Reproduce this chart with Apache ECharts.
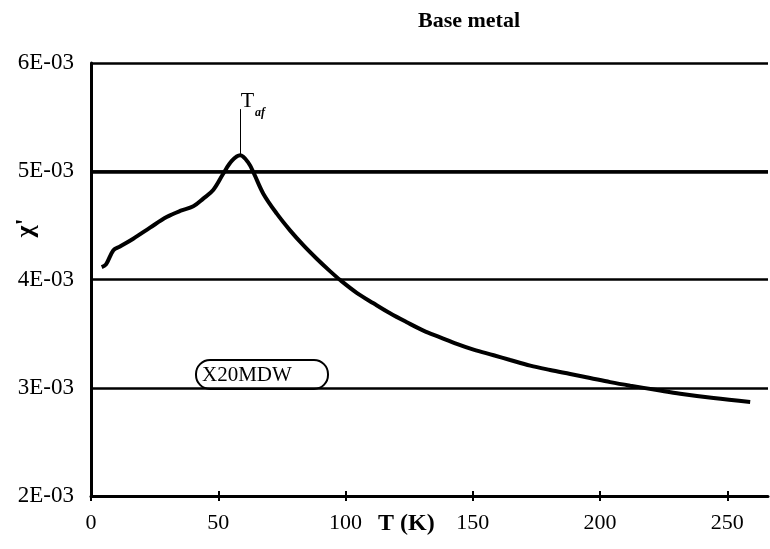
<!DOCTYPE html>
<html>
<head>
<meta charset="utf-8">
<script src="https://cdn.jsdelivr.net/npm/echarts@6/dist/echarts.min.js"></script>
<style>html,body{margin:0;padding:0;background:#fff;}#c{width:770px;height:549px;}</style>
</head>
<body>
<div id="c"></div>
<script>
// ---- data ----
const titleText = 'Base metal';
const sampleName = 'X20MDW';
const temperatureK = [4.2, 5.9, 8.8, 11.4, 16.6, 23.2, 29.7, 35, 40.2, 44.1, 48.1, 52, 55.3, 58.6, 61.8, 64, 67.7, 73, 78.2, 83.5, 88.7, 94, 97.9, 104.4, 111, 117.5, 124.1, 130.6, 137.2, 143.7, 150.3, 158.2, 164.7, 172.6, 180.4, 188.3, 196.1, 204, 211.9, 222.4, 231.5, 244.6, 259];
const chiPrime = [4.114e-3, 4.14e-3, 4.27e-3, 4.305e-3, 4.377e-3, 4.479e-3, 4.577e-3, 4.633e-3, 4.676e-3, 4.747e-3, 4.83e-3, 4.979e-3, 5.095e-3, 5.148e-3, 5.08e-3, 4.98e-3, 4.793e-3, 4.608e-3, 4.454e-3, 4.315e-3, 4.192e-3, 4.075e-3, 3.995e-3, 3.877e-3, 3.78e-3, 3.688e-3, 3.605e-3, 3.528e-3, 3.466e-3, 3.405e-3, 3.352e-3, 3.3e-3, 3.256e-3, 3.204e-3, 3.164e-3, 3.127e-3, 3.09e-3, 3.052e-3, 3.019e-3, 2.979e-3, 2.945e-3, 2.905e-3, 2.868e-3];
const xTickValues = [0, 50, 100, 150, 200, 250];
const yTickValues = [2e-3, 3e-3, 4e-3, 5e-3, 6e-3];
const yTickLabels = ['2E-03', '3E-03', '4E-03', '5E-03', '6E-03'];
const tafLineTop = 5.574e-3;

const serif = '"Liberation Serif", "Times New Roman", serif';
const peakIdx = chiPrime.indexOf(Math.max(...chiPrime));
const peakT = temperatureK[peakIdx];
const peakChi = chiPrime[peakIdx];

const chart = echarts.init(document.getElementById('c'), null, {renderer: 'canvas'});
chart.setOption({
  backgroundColor: '#fff',
  animation: false,
  title: {
    text: titleText, left: 413, top: 5,
    textStyle: {fontFamily: serif, fontWeight: 'bold', fontSize: 22, color: '#000'}
  },
  grid: {left: 91, right: 2, top: 63, bottom: 53},
  xAxis: [{
    type: 'value', min: 0, max: 266, interval: 50,
    axisLine: {lineStyle: {color: '#000', width: 3}},
    axisTick: {show: true, length: 5, customValues: xTickValues, lineStyle: {color: '#000', width: 2}},
    axisLabel: {customValues: xTickValues, margin: 16, fontFamily: serif, fontSize: 22, color: '#000'},
    splitLine: {show: false}
  }, {
    type: 'value', min: 0, max: 266, interval: 50, position: 'bottom',
    axisLine: {show: false},
    axisTick: {show: true, inside: true, length: 5, customValues: xTickValues, lineStyle: {color: '#000', width: 2}},
    axisLabel: {show: false},
    splitLine: {show: false}
  }],
  yAxis: {
    type: 'value', min: yTickValues[0], max: yTickValues[yTickValues.length - 1], interval: 1e-3,
    axisLine: {show: true, lineStyle: {color: '#000', width: 3}},
    axisTick: {show: false},
    axisLabel: {
      margin: 17, fontFamily: serif, fontSize: 23, color: '#000',
      formatter: v => {
        let best = 0, d = Infinity;
        yTickValues.forEach((t, i) => { if (Math.abs(t - v) < d) { d = Math.abs(t - v); best = i; } });
        return yTickLabels[best];
      }
    },
    splitLine: {show: true, lineStyle: {color: '#000', width: 2.5}}
  },
  series: [{
    type: 'line',
    xAxisIndex: 0,
    data: temperatureK.map((t, i) => [t, chiPrime[i]]),
    showSymbol: false,
    smooth: 0.35,
    lineStyle: {color: '#000', width: 4},
    markLine: {
      silent: true, symbol: 'none', animation: false,
      label: {show: false},
      data: [
        [{coord: [0, 5e-3], lineStyle: {width: 3.5, color: '#000', type: 'solid'}}, {coord: [266, 5e-3]}],
        [{coord: [peakT, peakChi], lineStyle: {width: 1, color: '#000', type: 'solid'}}, {coord: [peakT, tafLineTop]}]
      ]
    },
    markPoint: {
      silent: true, symbol: 'circle', symbolSize: 1,
      itemStyle: {color: 'rgba(0,0,0,0)'},
      data: [{coord: [peakT, tafLineTop]}],
      label: {
        show: true, position: [1, -18],
        formatter: '{t|T}{s|af}',
        rich: {
          t: {fontFamily: serif, fontSize: 22, color: '#000', verticalAlign: 'bottom', lineHeight: 22},
          s: {fontFamily: serif, fontSize: 12, fontStyle: 'italic', fontWeight: 'bold', color: '#000', verticalAlign: 'bottom', padding: [0, 0, -6, 1]}
        }
      }
    }
  }],
  graphic: [
    {
      type: 'text', left: 378, top: 512,
      style: {text: 'T (K)', font: 'bold 24px ' + serif, fill: '#000'}
    },
    {
      type: 'text', x: 26, y: 228, rotation: Math.PI / 2,
      style: {text: "χ'", font: 'bold 26px ' + serif, fill: '#000', textVerticalAlign: 'middle', textAlign: 'center'}
    },
    {
      type: 'group', left: 195, top: 359,
      children: [
        {type: 'rect', shape: {x: 0, y: 0, width: 132, height: 29, r: 14}, style: {fill: '#fff', stroke: '#000', lineWidth: 2}},
        {type: 'text', x: 6, y: 15, style: {text: sampleName, font: '21px ' + serif, fill: '#000', textVerticalAlign: 'middle'}}
      ]
    }
  ]
});
</script>
</body>
</html>
